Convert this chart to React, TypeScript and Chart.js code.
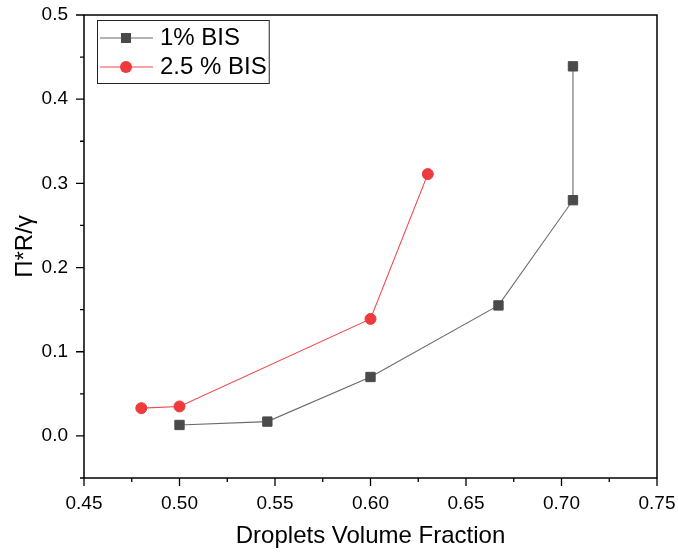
import React, { useEffect, useRef } from "react";
import { Chart, registerables } from "chart.js";

Chart.register(...registerables);

// Droplet volume fraction vs. reduced osmotic pressure
const fraction1 = [0.5, 0.546, 0.6, 0.667, 0.706, 0.706];
const ratio1 = [0.013, 0.017, 0.07, 0.155, 0.28, 0.439];
const fraction2 = [0.48, 0.5, 0.6, 0.63];
const ratio2 = [0.033, 0.035, 0.139, 0.311];
const seriesLabels = ["1% BIS", "2.5 % BIS"];
const xTitle = "Droplets Volume Fraction";
const yTitle = "Π*R/γ";
const xLimits = [0.45, 0.75];
const yLimits = [-0.05, 0.5];

const FONT = "Arial, 'Liberation Sans', sans-serif";

const isMajorX = (v: number) => Math.round(v * 1000) % 50 === 0;
const isMajorY = (v: number) => Math.round(v * 100) % 10 === 0;

const framePlugin = {
  id: "frameAndTicks",
  afterDraw(chart: any) {
    const { ctx, chartArea } = chart;
    const { left, right, top, bottom } = chartArea;
    ctx.save();
    ctx.strokeStyle = "#000";
    ctx.lineWidth = 1.5;
    ctx.strokeRect(left, top, right - left, bottom - top);

    // outward tick marks: long for labelled values, short in between
    const xs = chart.scales.x;
    const ys = chart.scales.y;
    ctx.lineWidth = 1.3;
    ctx.beginPath();
    xs.ticks.forEach((t: any) => {
      const px = xs.getPixelForValue(t.value);
      const len = isMajorX(t.value) ? 8 : 4;
      ctx.moveTo(px, bottom);
      ctx.lineTo(px, bottom + len);
    });
    ys.ticks.forEach((t: any) => {
      const py = ys.getPixelForValue(t.value);
      const len = isMajorY(t.value) ? 8 : 4;
      ctx.moveTo(left, py);
      ctx.lineTo(left - len, py);
    });
    ctx.stroke();

    // legend box in the upper-left corner of the plot
    const datasets = chart.data.datasets;
    ctx.font = `24px ${FONT}`;
    const textW = Math.max(...datasets.map((d: any) => ctx.measureText(d.label).width));
    const bx = left + 13;
    const by = top + 5;
    const bw = 63 + textW + 2;
    const rowH = 29;
    const bh = 18 + rowH + 16;
    ctx.fillStyle = "#fff";
    ctx.fillRect(bx, by, bw, bh);
    ctx.strokeStyle = "#222";
    ctx.lineWidth = 1;
    ctx.strokeRect(bx + 0.5, by + 0.5, bw, bh);
    datasets.forEach((d: any, i: number) => {
      const cy = by + 18 + i * rowH;
      ctx.strokeStyle = d.borderColor;
      ctx.lineWidth = 1.2;
      ctx.beginPath();
      ctx.moveTo(bx + 3, cy);
      ctx.lineTo(bx + 56, cy);
      ctx.stroke();
      ctx.fillStyle = d.pointBackgroundColor;
      const mx = bx + 29;
      if (d.pointStyle === "rect") {
        ctx.fillRect(mx - 5, cy - 5, 10, 10);
      } else {
        ctx.beginPath();
        ctx.arc(mx, cy, 6, 0, Math.PI * 2);
        ctx.fill();
      }
      ctx.fillStyle = "#000";
      ctx.textBaseline = "middle";
      ctx.textAlign = "left";
      ctx.fillText(d.label, bx + 63, cy);
    });
    ctx.restore();
  },
};

export default function App() {
  const ref = useRef<HTMLCanvasElement | null>(null);

  useEffect(() => {
    if (!ref.current) return;
    const chart = new Chart(ref.current, {
      type: "scatter",
      data: {
        datasets: [
          {
            label: seriesLabels[0],
            data: fraction1.map((x, i) => ({ x, y: ratio1[i] })),
            showLine: true,
            borderColor: "#6a6a6a",
            borderWidth: 1.1,
            pointStyle: "rect",
            pointRadius: 6.6,
            pointBorderWidth: 1,
            pointBackgroundColor: "#4a4a4a",
            pointBorderColor: "#4a4a4a",
          },
          {
            label: seriesLabels[1],
            data: fraction2.map((x, i) => ({ x, y: ratio2[i] })),
            showLine: true,
            borderColor: "#f0474a",
            borderWidth: 1.1,
            pointStyle: "circle",
            pointRadius: 5.5,
            pointBorderWidth: 1,
            pointBackgroundColor: "#ee3a3c",
            pointBorderColor: "#ee3a3c",
          },
        ],
      },
      options: {
        animation: false,
        responsive: false,
        devicePixelRatio: 1,
        layout: { padding: { top: 15, right: 21, left: 0, bottom: 0 } },
        plugins: { legend: { display: false }, tooltip: { enabled: false } },
        scales: {
          x: {
            type: "linear",
            min: xLimits[0],
            max: xLimits[1],
            afterFit(scale: any) {
              scale.height = 76;
            },
            grid: {
              display: true,
              drawOnChartArea: false,
              drawTicks: true,
              tickLength: 14,
              tickColor: "rgba(0,0,0,0)",
            },
            border: { display: false },
            ticks: {
              stepSize: 0.025,
              autoSkip: false,
              maxRotation: 0,
              padding: 0,
              color: "#000",
              font: { family: FONT, size: 19 },
              callback: (v: any) => (isMajorX(Number(v)) ? Number(v).toFixed(2) : ""),
            },
            title: {
              display: true,
              text: xTitle,
              color: "#000",
              font: { family: FONT, size: 24 },
              padding: { top: 0, bottom: 3 },
            },
          },
          y: {
            type: "linear",
            min: yLimits[0],
            max: yLimits[1],
            afterFit(scale: any) {
              scale.width = 84;
            },
            grid: {
              display: true,
              drawOnChartArea: false,
              drawTicks: true,
              tickLength: 16,
              tickColor: "rgba(0,0,0,0)",
            },
            border: { display: false },
            ticks: {
              stepSize: 0.05,
              autoSkip: false,
              padding: 0,
              color: "#000",
              font: { family: FONT, size: 19 },
              callback: (v: any) => (isMajorY(Number(v)) ? Number(v).toFixed(1) : ""),
            },
            title: {
              display: true,
              text: yTitle,
              color: "#000",
              font: { family: FONT, size: 24 },
              padding: { top: 11, bottom: 0 },
            },
          },
        },
      },
      plugins: [framePlugin],
    });
    return () => chart.destroy();
  }, []);

  return (
    <div style={{ position: "absolute", left: 0, top: 0, width: 678, height: 554, background: "#fff" }}>
      <canvas ref={ref} width={678} height={554} />
    </div>
  );
}
